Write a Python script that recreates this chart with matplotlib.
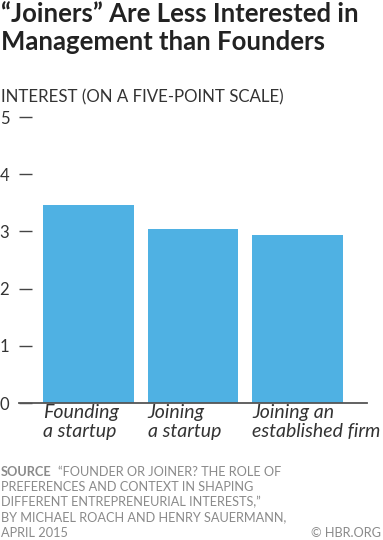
import matplotlib
matplotlib.use('Agg')
import matplotlib.pyplot as plt

# данные
categories = ['Founding\na startup', 'Joining\na startup', 'Joining an\nestablished firm']
interest = [3.47, 3.04, 2.94]
y_ticks = [0, 1, 2, 3, 4, 5]

bar_color = '#4FB1E3'
text_dark = '#222222'
text_gray = '#8a8a8a'
font = 'Lato'
W, H = 383, 540

fig = plt.figure(figsize=(W / 100, H / 100), dpi=100)
ax = fig.add_axes([19 / W, 1 - 403 / H, 348 / W, 286 / H])

width = 0.87
xs = list(range(len(categories)))
ax.bar(xs, interest, width=width, color=bar_color, zorder=2)

ax.set_xlim(-0.665, 2.665)
ax.set_ylim(0, 5)
ax.set_yticks(y_ticks)
ax.set_yticklabels([str(t) for t in y_ticks], fontfamily=font, fontsize=12, color='#333333')
ax.tick_params(axis='y', direction='in', length=9, width=1, color='#444444', pad=7)

# подписи категорий выровнены по левому краю столбца
ax.set_xticks([x - width / 2 for x in xs])
ax.set_xticklabels(categories, fontfamily=font, fontstyle='italic', fontsize=14,
                   color='#333333', ha='left', linespacing=1.15)
ax.tick_params(axis='x', length=0, pad=1)

for s in ['left', 'right', 'top']:
    ax.spines[s].set_visible(False)
ax.spines['bottom'].set_color('#555555')
ax.spines['bottom'].set_linewidth(1.3)
ax.spines['bottom'].set_zorder(3)

# заголовок
fig.text(1 / W, 1 - 2 / H, '\u201cJoiners\u201d Are Less Interested in\nManagement than Founders',
         fontfamily=font, fontweight='bold', fontsize=18.5, color=text_dark,
         va='top', ha='left', linespacing=1.2)
fig.text(1 / W, 1 - 97 / H, 'INTEREST (ON A FIVE-POINT SCALE)',
         fontfamily=font, fontsize=12.2, color='#333333', va='center', ha='left')

# источник
fs = 9.2
src_y = 472
t_src = fig.text(1 / W, 1 - src_y / H, 'SOURCE', fontfamily=font, fontweight='bold',
                 fontsize=fs, color=text_gray, va='center', ha='left')
fig.canvas.draw()
bb = t_src.get_window_extent()
fig.text(bb.x1 / W + 6 / W, 1 - src_y / H, '\u201cFOUNDER OR JOINER? THE ROLE OF',
         fontfamily=font, fontsize=fs, color=text_gray, va='center', ha='left')
src_lines = ['PREFERENCES AND CONTEXT IN SHAPING',
             'DIFFERENT ENTREPRENEURIAL INTERESTS,\u201d',
             'BY MICHAEL ROACH AND HENRY SAUERMANN,',
             'APRIL 2015']
for i, line in enumerate(src_lines):
    fig.text(1 / W, 1 - (src_y + 15.2 * (i + 1)) / H, line, fontfamily=font,
             fontsize=fs, color=text_gray, va='center', ha='left')
fig.text(381 / W, 1 - (src_y + 15.2 * 4) / H, '\u00a9 HBR.ORG', fontfamily=font,
         fontsize=fs, color=text_gray, va='center', ha='right')

fig.savefig('out.png', dpi=100)
